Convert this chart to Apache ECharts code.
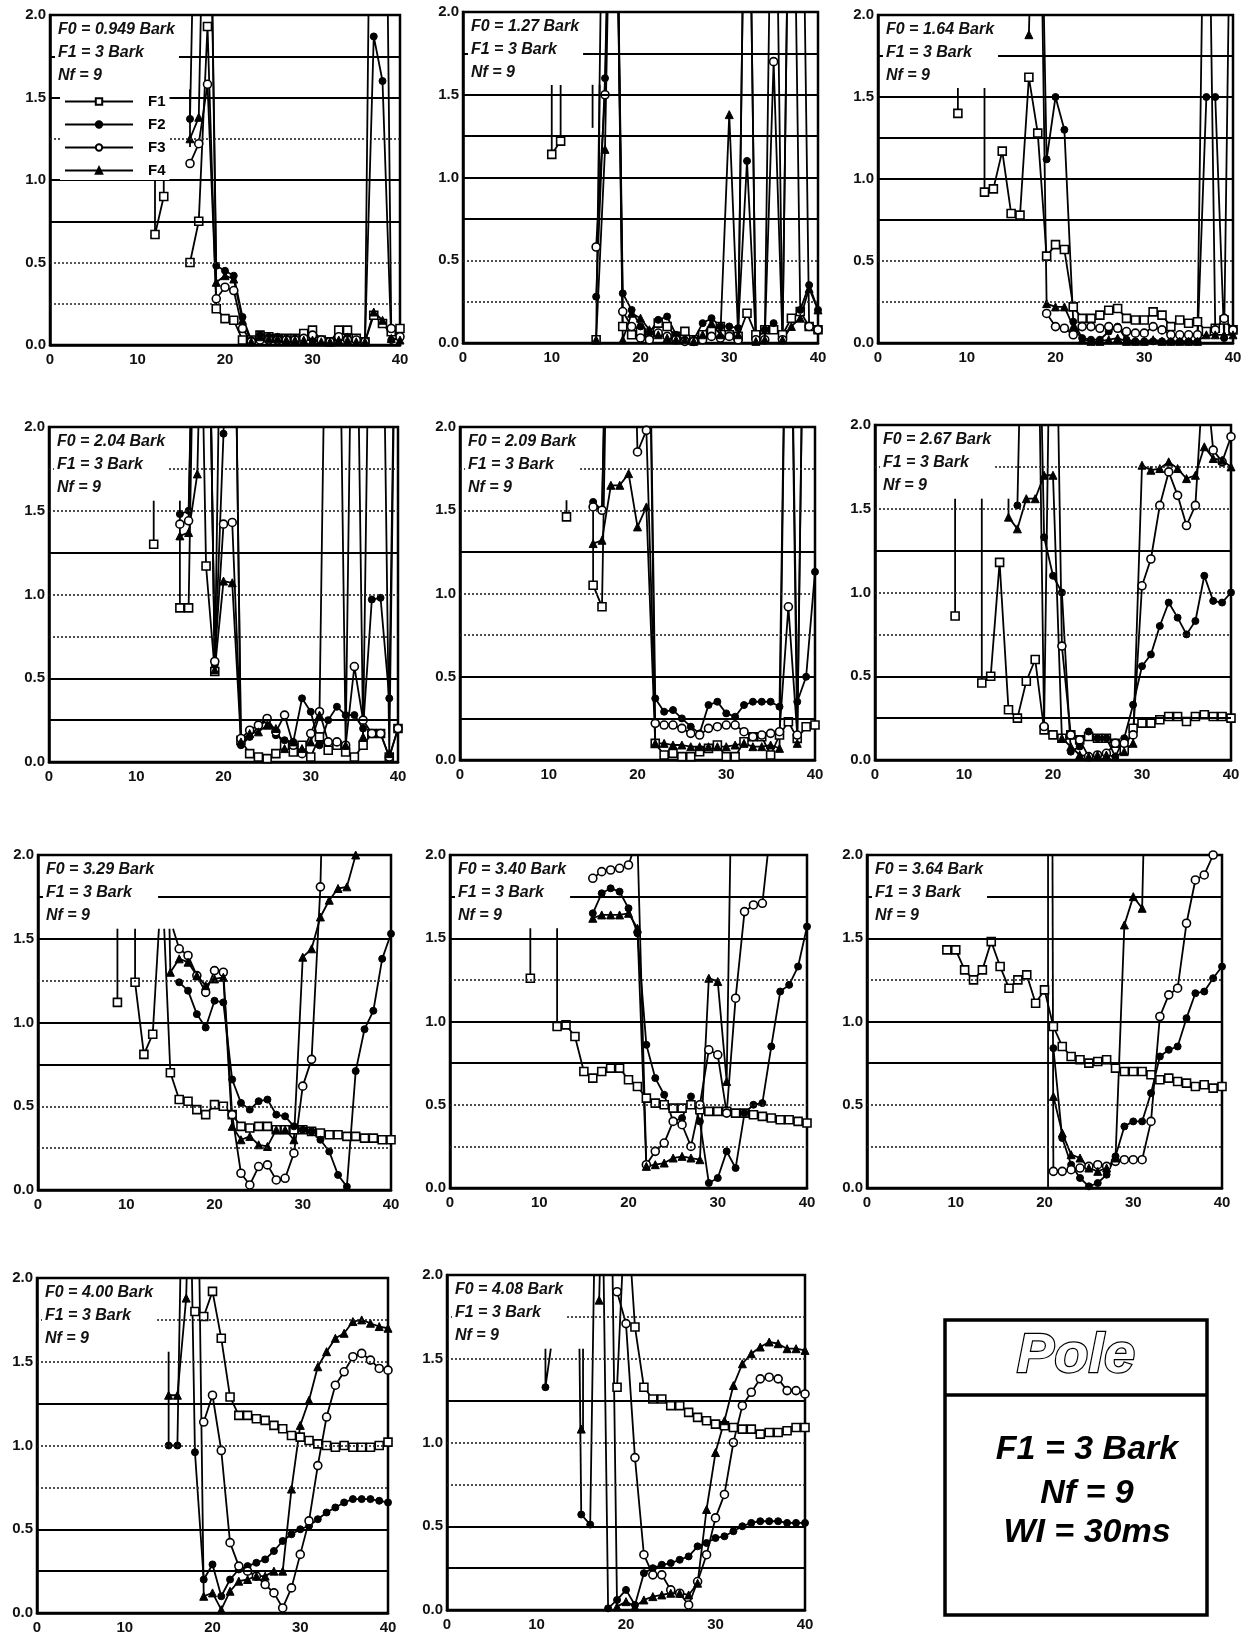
<!DOCTYPE html>
<html><head><meta charset="utf-8">
<script src="https://cdn.jsdelivr.net/npm/echarts@6/dist/echarts.min.js"></script>
<style>html,body{margin:0;padding:0;background:#fff}#c{width:1255px;height:1636px}</style>
</head><body><div id="c"></div>
<script>
const _ = null;
// ---------- labels ----------
const seriesNames = ['F1', 'F2', 'F3', 'F4'];
const f0Labels = ['0.949', '1.27', '1.64', '2.04', '2.09', '2.67', '3.29', '3.40', '3.64', '4.00', '4.08'];
const xTicks = [0, 10, 20, 30, 40];
const yTicks = [0, 0.5, 1.0, 1.5, 2.0];
// first frame index (x) of every panel's arrays
const startX = [12, 10, 9, 12, 12, 9, 9, 9, 9, 15, 11];

// ---------- panel 1 : F0 = 0.949 Bark (x = 12..40) ----------
const p1F1 = [0.67,0.9,_,_,0.5,0.75,1.93,0.22,0.16,0.15,0.03,0.03,0.06,0.05,0.04,0.04,0.04,0.07,0.09,0.03,0.02,0.09,0.09,0.04,0.02,0.18,0.13,0.08,0.1];
const p1F2 = [_,_,_,_,1.37,4,4,0.48,0.45,0.42,0.17,0.03,0.06,0.05,0.05,0.04,0.04,0.04,0.03,0.02,0.02,0.04,0.05,0.03,0.02,1.87,1.6,0.03,0.05];
const p1F3 = [_,_,_,_,1.1,1.22,1.58,0.28,0.35,0.33,0.1,0.02,0.03,0.03,0.03,0.03,0.03,0.04,0.06,0.03,0.02,0.05,0.03,0.03,0.02,5,5,0.1,0.05];
const p1F4 = [_,_,_,_,1.25,1.38,4,0.38,0.42,0.4,0.15,0.02,0.05,0.04,0.04,0.03,0.03,0.03,0.03,0.02,0.02,0.03,0.03,0.02,0.02,0.2,0.15,0.04,0.03];
const stubs1 = [[[12,1.11],[12,0.67]], [[13,1.11],[13,0.9]], [[16,1.55],[16,1.2]]];

// ---------- panel 2 : F0 = 1.27 Bark (x = 10..40) ----------
const p2F1 = [1.14,1.22,_,_,_,0.02,4,4,0.1,0.05,0.07,0.06,0.12,0.1,0.04,0.07,0.02,0.05,0.07,0.1,0.05,0.04,0.18,0.05,0.08,0.08,0.05,0.15,0.19,0.1,0.08];
const p2F2 = [_,_,_,_,_,0.28,1.6,4,0.3,0.2,0.1,0.06,0.14,0.16,0.05,0.02,0.02,0.12,0.15,0.1,0.1,0.09,1.1,0.02,0.08,0.12,0.02,4,0.2,0.35,0.2];
const p2F3 = [_,_,_,_,_,0.58,1.5,4,0.19,0.1,0.03,0.02,0.06,0.04,0.02,0.01,0.01,0.02,0.04,0.03,0.04,0.02,4,0.02,0.02,1.7,0.02,4,4,0.1,0.08];
const p2F4 = [_,_,_,_,_,0.02,1.17,4,0.02,0.18,0.15,0.08,0.05,0.03,0.02,0.02,0.01,0.05,0.12,0.05,1.38,0.05,4,0.01,0.02,4,0.02,0.1,0.15,0.33,0.2];
const stubs2 = [[[10,1.56],[10,1.14]], [[11,1.56],[11,1.22]], [[14.6,1.56],[14.6,1.3]], [[15.4,1.56],[15.3,0.9]]];

// ---------- panel 3 : F0 = 1.64 Bark (x = 9..40) ----------
const p3F1 = [1.4,_,_,0.92,0.94,1.17,0.79,0.78,1.62,1.28,0.53,0.6,0.57,0.22,0.15,0.15,0.17,0.2,0.21,0.15,0.14,0.14,0.19,0.17,0.1,0.14,0.12,0.13,0.07,0.09,0.14,0.08];
const p3F2 = [_,_,_,_,_,_,_,_,_,4,1.12,1.5,1.3,0.13,0.03,0.02,0.02,0.07,0.1,0.02,0.01,0.01,0.01,0.01,0.01,0.01,0.01,0.01,1.5,1.5,0.03,4];
const p3F3 = [_,_,_,_,_,_,_,_,_,_,0.18,0.1,0.09,0.05,0.1,0.1,0.09,0.1,0.09,0.07,0.06,0.06,0.1,0.08,0.05,0.05,0.05,0.05,4,0.08,0.15,0.08];
const p3F4 = [_,_,_,_,_,_,_,_,1.88,4,0.24,0.22,0.22,0.1,0.02,0.01,0.01,0.02,0.03,0.01,0.01,0.01,0.02,0.01,0.01,0.01,0.01,0.01,0.05,0.05,0.05,0.05];
const stubs3 = [[[9,1.56],[9,1.4]], [[12,1.56],[12,0.92]]];

// ---------- panel 4 : F0 = 2.04 Bark (x = 12..40) ----------
const p4F1 = [1.3,_,_,0.92,0.92,4,1.17,0.54,4,4,0.13,0.05,0.03,0.02,0.05,0.1,0.06,0.1,0.03,0.15,0.07,0.1,0.06,0.03,0.1,0.17,0.17,0.03,0.2];
const p4F2 = [_,_,_,1.48,1.5,4,4,0.58,1.96,4,0.1,0.15,0.21,0.25,0.16,0.13,0.12,0.38,0.3,0.1,0.25,0.33,0.28,0.28,0.2,0.97,0.98,0.38,4];
const p4F3 = [_,_,_,1.42,1.44,4,4,0.6,1.42,1.43,0.14,0.19,0.22,0.26,0.18,0.28,0.1,0.05,0.17,0.3,0.12,0.12,0.1,0.57,0.25,0.17,0.17,0.03,0.2];
const p4F4 = [_,_,_,1.35,1.37,1.72,4,0.55,1.08,1.07,0.12,0.17,0.18,0.22,0.2,0.08,0.12,0.08,0.12,0.28,4,4,0.1,4,0.15,4,4,0.05,4];
const stubs4 = [[[12,1.56],[12,1.3]], [[15,1.56],[15,0.92]]];

// ---------- panel 5 : F0 = 2.09 Bark (x = 12..40) ----------
const p5F1 = [1.46,_,_,1.05,0.92,4,_,_,_,4,0.1,0.03,0.04,0.02,0.02,0.05,0.07,0.09,0.02,0.02,0.11,0.14,0.14,0.03,0.15,0.23,0.13,0.2,0.21];
const p5F2 = [_,_,_,1.55,1.5,4,4,4,4,4,0.37,0.29,0.3,0.25,0.2,0.16,0.33,0.35,0.28,0.26,0.33,0.35,0.35,0.35,0.32,4,0.35,0.5,1.13];
const p5F3 = [_,_,_,1.52,1.5,4,4,4,1.85,1.98,0.22,0.21,0.21,0.19,0.16,0.15,0.19,0.2,0.21,0.21,0.17,0.14,0.15,0.16,0.17,0.92,0.15,4,4];
const p5F4 = [_,_,_,1.3,1.32,1.65,1.65,1.72,1.4,1.52,0.1,0.1,0.09,0.09,0.08,0.08,0.08,0.08,0.08,0.09,0.1,0.08,0.08,0.09,0.07,4,0.1,4,4];
const stubs5 = [[[12,1.56],[12,1.46]], [[15,1.56],[15,1.05]]];

// ---------- panel 6 : F0 = 2.67 Bark (x = 9..40) ----------
const p6F1 = [0.86,_,_,0.46,0.5,1.18,0.3,0.25,0.47,0.6,0.18,0.15,0.13,0.15,0.12,0.14,0.13,0.13,0.1,0.06,0.19,0.22,0.22,0.24,0.26,0.26,0.23,0.26,0.27,0.26,0.26,0.25];
const p6F2 = [_,_,_,_,_,_,_,1.52,4,4,1.33,1.1,1.0,0.05,0.08,0.17,0.13,0.13,0.02,0.13,0.33,0.56,0.63,0.8,0.94,0.85,0.75,0.83,1.1,0.95,0.94,1.0];
const p6F3 = [_,_,_,_,_,_,_,_,_,4,0.2,4,0.68,0.15,0.12,0.02,0.03,0.04,0.1,0.1,0.15,1.04,1.2,1.52,1.72,1.58,1.4,1.52,2.4,1.85,1.78,1.93];
const p6F4 = [_,_,_,_,_,_,1.45,1.38,1.56,1.56,1.7,1.7,0.13,0.08,0.03,0.02,0.03,0.03,0.02,0.05,0.1,1.76,1.73,1.74,1.78,1.74,1.68,1.7,1.87,1.8,1.79,1.75];
const stubs6 = [[[9,1.56],[9,0.86]], [[12,1.56],[12,0.46]], [[15,1.56],[15,1.45]]];

// ---------- panel 7 : F0 = 3.29 Bark (x = 9..40) ----------
const p7F1 = [1.12,_,1.24,0.81,0.93,_,0.7,0.54,0.53,0.48,0.45,0.51,0.5,0.45,0.38,0.37,0.38,0.38,0.36,0.36,0.36,0.36,0.35,0.34,0.33,0.33,0.32,0.32,0.31,0.31,0.3,0.3];
const p7F2 = [_,_,_,_,_,_,_,1.24,1.19,1.05,0.97,1.13,1.12,0.66,0.52,0.48,0.53,0.54,0.45,0.44,0.38,0.36,0.35,0.3,0.23,0.09,0.02,0.71,0.96,1.07,1.38,1.53];
const p7F3 = [_,_,_,_,_,_,_,1.44,1.4,1.28,1.18,1.31,1.3,0.45,0.1,0.03,0.14,0.15,0.06,0.07,0.22,0.62,0.78,1.81,4,4,4,4,4,4,4,4];
const p7F4 = [_,_,_,_,_,_,1.3,1.38,1.36,1.28,1.22,1.26,1.27,0.38,0.3,0.32,0.27,0.26,0.36,0.36,0.3,1.39,1.44,1.63,1.73,1.8,1.81,2.0,4,4,4,4];
const stubs7 = [[[9,1.56],[9,1.12]], [[11,1.56],[11,1.24]], [[13,0.93],[13.7,1.56]], [[14.3,1.56],[15,0.7]], [[14.9,1.56],[15,1.3]], [[15.3,1.56],[16,1.44]]];

// ---------- panel 8 : F0 = 3.40 Bark (x = 9..40) ----------
const p8F1 = [1.26,_,_,0.97,0.98,0.91,0.7,0.66,0.7,0.72,0.72,0.65,0.61,0.54,0.51,0.5,0.48,0.48,0.5,0.47,0.46,0.46,0.46,0.45,0.45,0.44,0.43,0.42,0.41,0.41,0.4,0.39];
const p8F2 = [_,_,_,_,_,_,_,1.65,1.77,1.8,1.78,1.68,1.53,0.86,0.66,0.56,0.4,0.42,0.55,0.4,0.03,0.06,0.22,0.12,0.45,0.5,0.51,0.85,1.18,1.22,1.33,1.57];
const p8F3 = [_,_,_,_,_,_,_,1.86,1.9,1.91,1.92,1.94,2.1,0.14,0.22,0.27,0.4,0.38,0.25,0.5,0.83,0.8,0.45,1.14,1.66,1.7,1.71,2.2,3,3,3,3];
const p8F4 = [_,_,_,_,_,_,_,1.62,1.64,1.64,1.64,1.65,1.56,0.13,0.14,0.15,0.18,0.19,0.18,0.17,1.26,1.24,0.64,4,4,4,4,4,4,4,4,4];
const stubs8 = [[[9,1.56],[9,1.26]], [[12,1.56],[12,0.97]]];

// ---------- panel 9 : F0 = 3.64 Bark (x = 9..40) ----------
const p9F1 = [1.43,1.43,1.31,1.25,1.31,1.48,1.33,1.2,1.25,1.28,1.11,1.19,0.97,0.85,0.79,0.77,0.75,0.76,0.77,0.72,0.7,0.7,0.7,0.68,0.65,0.66,0.64,0.63,0.61,0.62,0.6,0.61];
const p9F2 = [_,_,_,_,_,_,_,_,_,_,_,_,0.84,0.3,0.14,0.06,0.01,0.03,0.08,0.19,0.37,0.4,0.4,0.57,0.79,0.83,0.85,1.02,1.17,1.18,1.26,1.33];
const p9F3 = [_,_,_,_,_,_,_,_,_,_,_,_,0.1,0.1,0.11,0.12,0.13,0.14,0.13,0.16,0.17,0.17,0.17,0.4,1.03,1.16,1.2,1.59,1.85,1.88,2.0,2.3];
const p9F4 = [_,_,_,_,_,_,_,_,_,_,_,_,0.55,0.33,0.2,0.18,0.12,0.1,0.12,0.18,1.58,1.75,1.68,4,4,4,4,4,4,4,4,4];
const stubs9 = [[[20.4,2],[20.4,0]], [[20.9,2],[21,0.1]]];

// ---------- panel 10 : F0 = 4.00 Bark (x = 15..40) ----------
const p10F1 = [_,_,_,1.8,1.77,1.92,1.64,1.29,1.18,1.18,1.16,1.15,1.12,1.1,1.06,1.05,1.03,1.01,1.0,0.99,1.0,0.99,0.99,0.99,1.0,1.02];
const p10F2 = [1.0,1.0,4,0.96,0.2,0.29,0.1,0.2,0.26,0.28,0.3,0.32,0.37,0.43,0.47,0.5,0.52,0.56,0.6,0.63,0.66,0.68,0.68,0.68,0.67,0.66];
const p10F3 = [_,_,_,_,1.14,1.3,0.97,0.42,0.28,0.25,0.22,0.17,0.12,0.03,0.15,0.35,0.55,0.88,1.17,1.36,1.44,1.53,1.55,1.51,1.46,1.45];
const p10F4 = [1.3,1.3,1.88,4,0.1,0.12,0.02,0.13,0.19,0.2,0.22,0.22,0.25,0.25,0.74,1.12,1.27,1.47,1.56,1.64,1.67,1.74,1.75,1.73,1.71,1.7];
const stubs10 = [[[15,1.56],[15,1.0]]];

// ---------- panel 11 : F0 = 4.08 Bark (x = 11..40) ----------
const p11F1 = [_,_,_,_,_,_,_,_,1.33,2.5,1.69,1.33,1.26,1.26,1.22,1.22,1.18,1.15,1.13,1.11,1.1,1.09,1.08,1.08,1.05,1.06,1.06,1.07,1.09,1.09];
const p11F2 = [1.33,_,_,_,0.57,0.51,4,0.01,0.06,0.12,0.03,0.22,0.25,0.27,0.28,0.3,0.32,0.38,0.4,0.43,0.44,0.47,0.5,0.52,0.53,0.53,0.53,0.52,0.52,0.52];
const p11F3 = [_,_,_,_,_,_,_,_,1.9,1.71,0.91,0.33,0.21,0.21,0.12,0.1,0.03,0.17,0.33,0.55,0.69,1.0,1.22,1.3,1.38,1.39,1.38,1.31,1.31,1.29];
const p11F4 = [_,_,_,_,1.08,_,1.85,4,0.02,0.05,0.02,0.06,0.08,0.09,0.1,0.1,0.09,0.16,0.6,0.94,1.13,1.34,1.47,1.53,1.57,1.6,1.59,1.56,1.56,1.55];
const stubs11 = [[[11.6,1.56],[11,1.33],[11,1.56]], [[14.8,1.56],[15,0.57]], [[15.2,1.56],[15.2,1.08]]];

// ---------- assembly ----------
const panelSeries = [
  [p1F1,p1F2,p1F3,p1F4],[p2F1,p2F2,p2F3,p2F4],[p3F1,p3F2,p3F3,p3F4],[p4F1,p4F2,p4F3,p4F4],
  [p5F1,p5F2,p5F3,p5F4],[p6F1,p6F2,p6F3,p6F4],[p7F1,p7F2,p7F3,p7F4],[p8F1,p8F2,p8F3,p8F4],
  [p9F1,p9F2,p9F3,p9F4],[p10F1,p10F2,p10F3,p10F4],[p11F1,p11F2,p11F3,p11F4]
];
const panelStubs = [stubs1,stubs2,stubs3,stubs4,stubs5,stubs6,stubs7,stubs8,stubs9,stubs10,stubs11];

// layout (pixels) and grid-line styles
const boxes = [[50,15,350,330],[463,12,355,331],[878,15,355,328],[49,427,349,335],[460,427,355,333],[875,425,356,335],
               [38,855,353,335],[450,855,357,333],[867,855,355,333],[37,1278,351,335],[447,1275,358,335]];
const patterns = ['ddssdss','ddsssss','ddsssss','ssddsdd','ssddsdd','ssddsdd','ddssdss','ddssdss','ddssdss','ssddsdd','ssddsdd'];
const FONT = "'Liberation Sans', Arial, sans-serif";
const markers = [
  {symbol:'rect', symbolSize:8, itemStyle:{color:'#fff', borderColor:'#000', borderWidth:1.6}},
  {symbol:'circle', symbolSize:7, itemStyle:{color:'#000', borderColor:'#000', borderWidth:1}},
  {symbol:'circle', symbolSize:8, itemStyle:{color:'#fff', borderColor:'#000', borderWidth:1.6}},
  {symbol:'triangle', symbolSize:8, itemStyle:{color:'#000', borderColor:'#000', borderWidth:1}}
];
const toPairs = (start, arr) => arr.map((v, i) => [start + i, v == null ? '-' : v]);

const grids = [], xAxes = [], yAxes = [], titles = [], series = [];
boxes.forEach((b, i) => {
  grids.push({left:b[0], top:b[1], width:b[2], height:b[3], show:true, borderColor:'#000', borderWidth:2.5,
              backgroundColor:'transparent', containLabel:false, outerBoundsMode:'none'});
  xAxes.push({type:'value', gridIndex:i, min:xTicks[0], max:xTicks[xTicks.length-1], interval:xTicks[1]-xTicks[0],
    axisLine:{show:true, lineStyle:{color:'#000', width:2.5}}, axisTick:{show:false}, splitLine:{show:false},
    axisLabel:{fontSize:15, fontWeight:'bold', color:'#111', fontFamily:FONT, margin:7}});
  yAxes.push({type:'value', gridIndex:i, min:yTicks[0], max:yTicks[yTicks.length-1], interval:yTicks[1]-yTicks[0],
    axisLine:{show:true, lineStyle:{color:'#000', width:2.5}}, axisTick:{show:false}, splitLine:{show:false},
    axisLabel:{fontSize:15, fontWeight:'bold', color:'#111', fontFamily:FONT, margin:4, formatter:v => v.toFixed(1)}});
  titles.push({text:`F0 = ${f0Labels[i]} Bark\nF1 = 3 Bark\nNf = 9`, left:b[0]+5, top:b[1]+2,
    padding:[1,4,1,3], backgroundColor:'#fff', z:8,
    textStyle:{fontFamily:FONT, fontStyle:'italic', fontWeight:'bold', fontSize:16, lineHeight:23, color:'#111'}});
  // horizontal reference lines every 0.25
  const levels = [0.25,0.5,0.75,1.0,1.25,1.5,1.75];
  series.push({type:'line', xAxisIndex:i, yAxisIndex:i, data:[], silent:true, z:1,
    markLine:{silent:true, symbol:['none','none'], label:{show:false}, animation:false,
      data: levels.map((lv, k) => ({yAxis:lv, lineStyle: patterns[i][k] === 's'
        ? {type:'solid', color:'#000', width:2} : {type:[2,2], color:'#222', width:1.6}}))}});
  panelSeries[i].forEach((arr, s) => {
    series.push(Object.assign({type:'line', name:seriesNames[s], xAxisIndex:i, yAxisIndex:i,
      data:toPairs(startX[i], arr), showAllSymbol:true, clip:true, connectNulls:false, z:3,
      lineStyle:{color:'#000', width:1.8}}, markers[s]));
  });
  panelStubs[i].forEach(seg => {
    series.push({type:'line', xAxisIndex:i, yAxisIndex:i, data:seg, symbol:'none', clip:true, silent:true, z:3,
      lineStyle:{color:'#000', width:1.8}});
  });
});

const chart = echarts.init(document.getElementById('c'), null, {renderer:'canvas'});
chart.setOption({
  animation:false,
  backgroundColor:'#fff',
  grid:grids, xAxis:xAxes, yAxis:yAxes, title:titles, series:series,
  legend:{data:seriesNames, orient:'vertical', left:60, top:92, itemWidth:68, itemHeight:8, itemGap:8,
    backgroundColor:'#fff', padding:[2,4,2,4], selectedMode:false, z:9,
    textStyle:{fontFamily:FONT, fontSize:15, fontWeight:'bold', color:'#000', padding:[0,0,0,10]}},
  graphic:[
    {type:'rect', shape:{x:945, y:1320, width:262, height:295}, style:{fill:'#fff', stroke:'#000', lineWidth:3.5}, z:10},
    {type:'line', shape:{x1:945, y1:1395, x2:1207, y2:1395}, style:{stroke:'#000', lineWidth:3.5}, z:10},
    {type:'text', x:1076, y:1357, z:11, style:{text:'Pole', font:"italic bold 56px " + FONT, fill:'#fff', stroke:'#000', lineWidth:2.4,
      align:'center', verticalAlign:'middle', textAlign:'center', textVerticalAlign:'middle'}},
    {type:'text', x:1087, y:1450, z:11, style:{text:'F1 = 3 Bark', font:"italic bold 34px " + FONT, fill:'#000',
      align:'center', verticalAlign:'middle', textAlign:'center', textVerticalAlign:'middle'}},
    {type:'text', x:1087, y:1494, z:11, style:{text:'Nf = 9', font:"italic bold 34px " + FONT, fill:'#000',
      align:'center', verticalAlign:'middle', textAlign:'center', textVerticalAlign:'middle'}},
    {type:'text', x:1087, y:1533, z:11, style:{text:'WI = 30ms', font:"italic bold 34px " + FONT, fill:'#000',
      align:'center', verticalAlign:'middle', textAlign:'center', textVerticalAlign:'middle'}}
  ]
});
</script>
</body></html>
